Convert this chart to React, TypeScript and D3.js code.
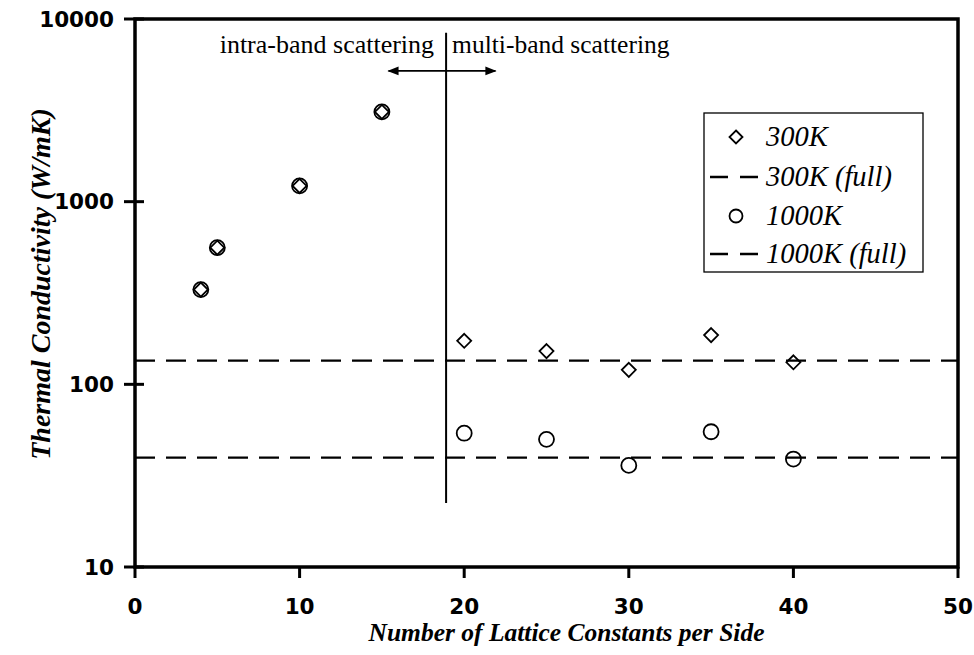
import React from "react";
import * as d3 from "d3";

// Lattice sizes (number of lattice constants per side)
const sizes = [4, 5, 10, 15, 20, 25, 30, 35, 40];
// Thermal conductivity (W/mK)
const k300 = [330, 560, 1220, 3100, 173, 152, 120, 186, 132];
const k1000 = [330, 560, 1220, 3100, 54, 50, 36, 55, 39];
// Full-model reference levels
const full300 = 135;
const full1000 = 39.7;

const xTicks = [0, 10, 20, 30, 40, 50];
const yTicks = [10, 100, 1000, 10000];

// Regime divider and annotation
const dividerX = 18.9;
const dividerY = [22.4, 8400];
const arrowX = [15.4, 21.9];
const arrowY = 5200;
const leftLabel = "intra-band scattering";
const rightLabel = "multi-band scattering";

const legendItems = [
  { label: "300K", kind: "diamond" },
  { label: "300K (full)", kind: "dash" },
  { label: "1000K", kind: "circle" },
  { label: "1000K (full)", kind: "dash" },
];

const W = 974;
const H = 655;
const M = { left: 135, right: 958, top: 19, bottom: 567 };

const serif = "'Liberation Serif', 'Times New Roman', serif";
const heavy = "'DejaVu Sans', 'Liberation Sans', Arial, sans-serif";

function diamondPath(cx: number, cy: number, r: number) {
  return `M${cx},${cy - r}L${cx + r},${cy}L${cx},${cy + r}L${cx - r},${cy}Z`;
}

export default function App() {
  const x = d3.scaleLinear().domain([0, 50]).range([M.left, M.right]);
  const y = d3.scaleLog().domain([10, 10000]).range([M.bottom, M.top]);

  const dash = "20 11";
  const lg = { x: 704, y: 113, w: 219, h: 159 };
  const rowY = [137, 177, 216, 254];

  return (
    <svg
      width={W}
      height={H}
      style={{ position: "absolute", left: 0, top: 0, background: "#fff" }}
    >
      <defs>
        <marker id="ah" viewBox="0 0 10 10" refX="9" refY="5" markerWidth="7" markerHeight="7" orient="auto-start-reverse">
          <path d="M0,1 L10,5 L0,9 Z" fill="#000" />
        </marker>
      </defs>

      {/* reference levels */}
      {[full300, full1000].map((v, i) => (
        <line key={i} x1={x(0)} x2={x(50)} y1={y(v)} y2={y(v)} stroke="#000" strokeWidth={2.2} strokeDasharray={dash} />
      ))}

      {/* regime divider */}
      <line x1={x(dividerX)} x2={x(dividerX)} y1={y(dividerY[0])} y2={y(dividerY[1])} stroke="#000" strokeWidth={2} />
      <line
        x1={x(arrowX[0])} x2={x(arrowX[1])} y1={y(arrowY)} y2={y(arrowY)}
        stroke="#000" strokeWidth={1.6}
        markerStart="url(#ah)" markerEnd="url(#ah)"
      />
      <text x={x(dividerX) - 12} y={53} textAnchor="end" fontFamily={serif} fontSize={26}>{leftLabel}</text>
      <text x={x(dividerX) + 6} y={53} textAnchor="start" fontFamily={serif} fontSize={25.5}>{rightLabel}</text>

      {/* 1000K circles */}
      {sizes.map((s, i) => (
        <circle key={"c" + i} cx={x(s)} cy={y(k1000[i])} r={7.5} fill="none" stroke="#000" strokeWidth={1.8} />
      ))}
      {/* 300K diamonds */}
      {sizes.map((s, i) => (
        <path key={"d" + i} d={diamondPath(x(s), y(k300[i]), 7)} fill="none" stroke="#000" strokeWidth={1.8} />
      ))}

      {/* frame */}
      <rect x={M.left} y={M.top} width={M.right - M.left} height={M.bottom - M.top} fill="none" stroke="#000" strokeWidth={3.5} />

      {/* y ticks */}
      {yTicks.map((t) => (
        <g key={t}>
          <line x1={M.left - 11} x2={M.left + 9} y1={y(t)} y2={y(t)} stroke="#000" strokeWidth={3} />
          <text x={114} y={y(t)} dy="0.36em" textAnchor="end" fontFamily={heavy} fontWeight="bold" fontSize={21.5}>
            {d3.format("d")(t)}
          </text>
        </g>
      ))}
      {/* x ticks */}
      {xTicks.map((t) => (
        <g key={t}>
          <line x1={x(t)} x2={x(t)} y1={M.bottom} y2={M.bottom + 11} stroke="#000" strokeWidth={3} />
          <text x={x(t)} y={614} textAnchor="middle" fontFamily={heavy} fontWeight="bold" fontSize={21.5}>
            {t}
          </text>
        </g>
      ))}

      {/* axis titles */}
      <text x={(M.left + M.right) / 2 + 20} y={641} textAnchor="middle" fontFamily={serif} fontWeight="bold" fontStyle="italic" fontSize={25.5}>
        Number of Lattice Constants per Side
      </text>
      <text
        transform={`translate(50,284) rotate(-90)`}
        textAnchor="middle" fontFamily={serif} fontWeight="bold" fontStyle="italic" fontSize={28}
      >
        Thermal Conductivity (W/mK)
      </text>

      {/* legend */}
      <rect x={lg.x} y={lg.y} width={lg.w} height={lg.h} fill="#fff" stroke="#000" strokeWidth={1.3} />
      {legendItems.map((it, i) => (
        <g key={it.label}>
          {it.kind === "diamond" && <path d={diamondPath(736, rowY[i], 6.5)} fill="none" stroke="#000" strokeWidth={1.8} />}
          {it.kind === "circle" && <circle cx={736} cy={rowY[i]} r={6.5} fill="none" stroke="#000" strokeWidth={1.8} />}
          {it.kind === "dash" && (
            <line x1={710} x2={758} y1={rowY[i]} y2={rowY[i]} stroke="#000" strokeWidth={2.5} strokeDasharray="18 12" />
          )}
          <text x={766} y={rowY[i]} dy="0.33em" fontFamily={serif} fontStyle="italic" fontSize={28.5}>
            {it.label}
          </text>
        </g>
      ))}
    </svg>
  );
}
